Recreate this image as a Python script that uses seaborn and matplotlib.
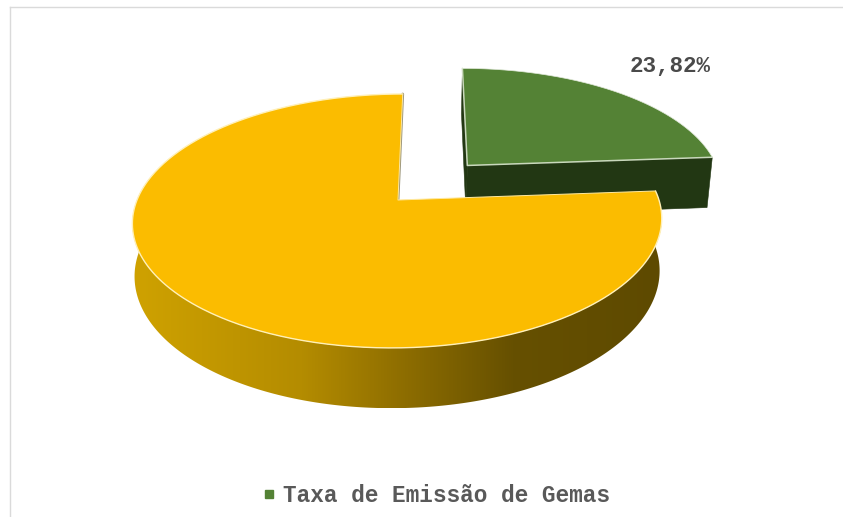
import numpy as np
import matplotlib
matplotlib.use("Agg")
import matplotlib.pyplot as plt
from matplotlib.colors import LinearSegmentedColormap
from matplotlib.lines import Line2D
from matplotlib.patches import Polygon
import seaborn as sns

# Data
legend_label = "Taxa de Emissão de Gemas"
shares = [23.82, 76.18]
label_text = "23,82%"

# Colours
top_colors = sns.color_palette(["#548235", "#FBBC00"])
green_side = "#223713"
rim_green = "#C9D8BC"
rim_gold = "#FFF0B8"
gold_side = LinearSegmentedColormap.from_list(
    "gold_side",
    [(0.0, "#CFA200"), (0.32, "#B48C00"), (0.5, "#906F00"), (0.72, "#665000"), (1.0, "#5E4A00")],
)

# Perspective camera for the tilted pie
CX, CY = 398.0, 200.0
A, B = 261.0, 123.5
SKEW, K = 5.5, 0.165
EXPLODE = 0.40
# Lower rim of each solid: (vertical drop, foreshortening)
BODY_BASE = (52.0, 0.008)
SLICE_BASE = (53.5, 0.018)
TOP_FACE = (0.0, 0.0)


def project(X, Y, plane=TOP_FACE):
    drop, shrink = plane
    w = 1 + K * Y + shrink
    return CX + (A * X + SKEW * Y) / w, CY + (drop - B * Y) / w


def wedge_outline(start, stop, offset, plane=TOP_FACE, n=240):
    theta = np.radians(np.linspace(start, stop, n))
    X = offset[0] + np.sin(theta)
    Y = offset[1] + np.cos(theta)
    px, py = project(X, Y, plane)
    apex = project(offset[0], offset[1], plane)
    return np.column_stack([px, py]), np.array(apex)


sns.set_theme(style="white")
fig = plt.figure(figsize=(8.43, 5.17), dpi=100, facecolor="white")
ax = fig.add_axes([10 / 843, 0, 833 / 843, 510 / 517])
ax.set_xticks([])
ax.set_yticks([])
sns.despine(ax=ax, top=False, left=False, right=True, bottom=True)
for side in ("top", "left"):
    ax.spines[side].set_color("#DADADA")
    ax.spines[side].set_linewidth(1.0)

# Slice angles run clockwise from twelve o'clock
angles = np.cumsum([0.0] + [s / sum(shares) * 360.0 for s in shares])

# Exploded slice, drawn first because it lies behind the main body
g0, g1 = angles[0], angles[1]
mid = np.radians((g0 + g1) / 2)
off = (EXPLODE * np.sin(mid), EXPLODE * np.cos(mid))
arc_top, apex_top = wedge_outline(g0, g1, off)
arc_low, apex_low = wedge_outline(g0, g1, off, plane=SLICE_BASE)
for top_pt, low_pt in ((arc_top[0], arc_low[0]), (arc_top[-1], arc_low[-1])):
    ax.fill(
        [apex_top[0], top_pt[0], low_pt[0], apex_low[0]],
        [apex_top[1], top_pt[1], low_pt[1], apex_low[1]],
        color=green_side,
        lw=0.4,
        zorder=2,
    )
ax.fill(*np.vstack([apex_top, arc_top]).T, color=top_colors[0], lw=0, zorder=3)
ax.plot(*np.vstack([arc_top[0], apex_top, arc_top[-1]]).T, color=rim_green, lw=1.1, zorder=4)
ax.plot(*arc_top.T, color="#E4EBDD", lw=0.5, zorder=4)

# Main body: shaded outer wall, then its flat top face
b0, b1 = angles[1], angles[2]
arc_top, apex_top = wedge_outline(b0, b1, (0, 0), n=360)
arc_low, apex_low = wedge_outline(b0, b1, (0, 0), plane=BODY_BASE, n=360)

# Only the part of the wall facing the viewer is shaded in
theta = np.radians(np.linspace(b0, b1, 360))
front = np.cos(theta) < 0.2
wall = np.vstack([arc_top[front], arc_low[front][::-1]])
x_min, x_max = arc_top[:, 0].min(), arc_top[:, 0].max()
ramp = np.linspace(0, 1, 512)[None, :]
wall_image = ax.imshow(
    ramp, cmap=gold_side, vmin=0, vmax=1, aspect="auto", interpolation="bilinear",
    extent=(x_min, x_max, wall[:, 1].max(), wall[:, 1].min()), zorder=5,
)
wall_image.set_clip_path(Polygon(wall, closed=True, transform=ax.transData))

# Thin shadow showing behind the notch edge
ax.plot(*np.vstack([apex_top, arc_top[-1]]).T, color="#9A9478", lw=2.0, zorder=5)

ax.fill(*np.vstack([apex_top, arc_top]).T, color=top_colors[1], lw=0, zorder=6)
ax.plot(*arc_top.T, color=rim_gold, lw=1.0, zorder=7)
ax.plot(*np.vstack([arc_top[0], apex_top, arc_top[-1]]).T, color="#FFE9A0", lw=0.7, zorder=7)

ax.set_xlim(10, 843)
ax.set_ylim(517, 7)

# Value label on the exploded slice
ax.text(670, 67, label_text, ha="center", va="center", color="#4A4A4A",
        family="Liberation Mono", fontweight="bold", fontsize=16.2, zorder=8)

# Legend along the bottom edge
handle = Line2D([], [], linestyle="none", marker="s", markersize=5.5,
                markerfacecolor=top_colors[0], markeredgecolor=top_colors[0])
leg = ax.legend([handle], [legend_label], loc="center", bbox_to_anchor=(433.5, 495),
                bbox_transform=ax.transData, frameon=False, handletextpad=0.12, handlelength=1.0,
                prop={"family": "Liberation Mono", "weight": "bold", "size": 16.4})
leg.get_texts()[0].set_color("#595959")

fig.savefig("out.png", dpi=100)
